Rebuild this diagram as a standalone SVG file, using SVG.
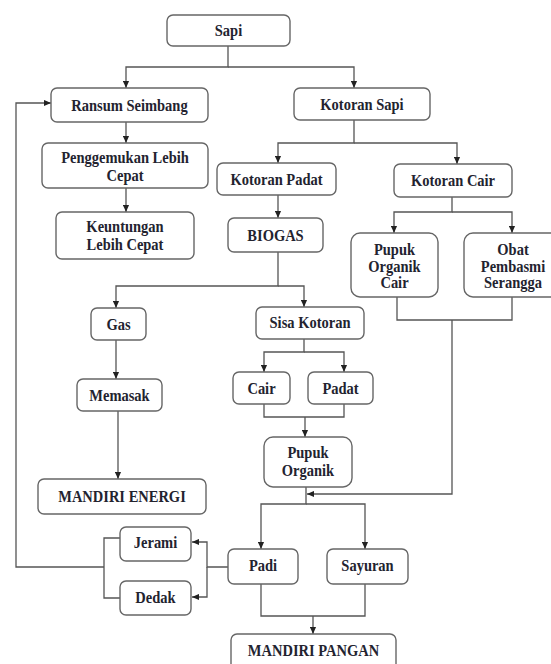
<svg xmlns="http://www.w3.org/2000/svg" width="551" height="664" viewBox="0 0 551 664">
<style>
.b{fill:#fff;stroke:#666;stroke-width:1.4}
.t{font-family:"Liberation Serif","Times New Roman",serif;font-weight:bold;font-size:14.5px;fill:#23232f;text-anchor:middle}
.c{fill:none;stroke:#555;stroke-width:1.3}
</style>
<defs>
<marker id="ah" viewBox="0 0 8 8" refX="8" refY="4" markerWidth="7" markerHeight="7" orient="auto" markerUnits="userSpaceOnUse"><path d="M0,0.5 L8,4 L0,7.5 z" fill="#222"/></marker>
</defs>
<rect width="551" height="664" fill="#fff"/>
<g id="connectors">
<path class="c" d="M228,46 V67 H126 V88" marker-end="url(#ah)"/>
<path class="c" d="M228,67 H354 V88" marker-end="url(#ah)"/>
<path class="c" d="M126,122 V143" marker-end="url(#ah)"/>
<path class="c" d="M126,188 V212" marker-end="url(#ah)"/>
<path class="c" d="M354,120 V143 H278 V163" marker-end="url(#ah)"/>
<path class="c" d="M354,143 H457 V164" marker-end="url(#ah)"/>
<path class="c" d="M278,195 V218" marker-end="url(#ah)"/>
<path class="c" d="M278,252 V286 H116 V308" marker-end="url(#ah)"/>
<path class="c" d="M278,286 H304 V307" marker-end="url(#ah)"/>
<path class="c" d="M116,340 V379" marker-end="url(#ah)"/>
<path class="c" d="M118,411 V479" marker-end="url(#ah)"/>
<path class="c" d="M304,339 V352 H264 V372" marker-end="url(#ah)"/>
<path class="c" d="M304,352 H344 V372" marker-end="url(#ah)"/>
<path class="c" d="M264,404 V417 H344 V404"/>
<path class="c" d="M305,417 V437" marker-end="url(#ah)"/>
<path class="c" d="M452,197 V212 H394 V233" marker-end="url(#ah)"/>
<path class="c" d="M452,212 H512 V233" marker-end="url(#ah)"/>
<path class="c" d="M397,297 V320 H512 V297"/>
<path class="c" d="M452,320 V494 H307" marker-end="url(#ah)"/>
<path class="c" d="M306,487 V504 H261 V549" marker-end="url(#ah)"/>
<path class="c" d="M306,504 H365 V549" marker-end="url(#ah)"/>
<path class="c" d="M228,567 H207 V542 H192" marker-end="url(#ah)"/>
<path class="c" d="M207,567 V597 H192" marker-end="url(#ah)"/>
<path class="c" d="M120,538 H104 V598 H120"/>
<path class="c" d="M104,567 H16 V103 H51" marker-end="url(#ah)"/>
<path class="c" d="M261,584 V616 H365 V584"/>
<path class="c" d="M313,616 V634" marker-end="url(#ah)"/>
</g>
<g id="sapi"><rect class="b" x="167" y="15" width="123" height="31" rx="6"/><text class="t" transform="translate(228.5 36) scale(1 1.15)">Sapi</text></g>
<g id="ransum"><rect class="b" x="51" y="88" width="157" height="34" rx="6"/><text class="t" transform="translate(129.5 110.5) scale(1 1.15)">Ransum Seimbang</text></g>
<g id="kotoran-sapi"><rect class="b" x="294" y="88" width="136" height="32" rx="6"/><text class="t" transform="translate(362 109.5) scale(1 1.15)">Kotoran Sapi</text></g>
<g id="penggemukan"><rect class="b" x="42" y="143" width="166" height="45" rx="6"/><text class="t" transform="translate(125 163) scale(1 1.15)">Penggemukan Lebih</text><text class="t" transform="translate(125 181) scale(1 1.15)">Cepat</text></g>
<g id="keuntungan"><rect class="b" x="56" y="212" width="138" height="47" rx="6"/><text class="t" transform="translate(125 232) scale(1 1.15)">Keuntungan</text><text class="t" transform="translate(125 249.5) scale(1 1.15)">Lebih Cepat</text></g>
<g id="kotoran-padat"><rect class="b" x="217" y="163" width="119" height="32" rx="6"/><text class="t" transform="translate(276.5 184.5) scale(1 1.15)">Kotoran Padat</text></g>
<g id="kotoran-cair"><rect class="b" x="394" y="164" width="118" height="33" rx="6"/><text class="t" transform="translate(453 186) scale(1 1.15)">Kotoran Cair</text></g>
<g id="biogas"><rect class="b" x="228" y="218" width="95" height="34" rx="6"/><text class="t" transform="translate(275.5 240.5) scale(1 1.15)">BIOGAS</text></g>
<g id="pupuk-organik-cair"><rect class="b" x="351" y="233" width="87" height="64" rx="9"/><text class="t" transform="translate(394.5 255) scale(1 1.15)">Pupuk</text><text class="t" transform="translate(394.5 271.5) scale(1 1.15)">Organik</text><text class="t" transform="translate(394.5 288) scale(1 1.15)">Cair</text></g>
<g id="obat"><rect class="b" x="464" y="233" width="98" height="64" rx="9"/><text class="t" transform="translate(513 255) scale(1 1.15)">Obat</text><text class="t" transform="translate(513 271.5) scale(1 1.15)">Pembasmi</text><text class="t" transform="translate(513 288) scale(1 1.15)">Serangga</text></g>
<g id="gas"><rect class="b" x="91" y="308" width="55" height="32" rx="6"/><text class="t" transform="translate(118.5 329.5) scale(1 1.15)">Gas</text></g>
<g id="sisa-kotoran"><rect class="b" x="256" y="307" width="108" height="32" rx="6"/><text class="t" transform="translate(310 328) scale(1 1.15)">Sisa Kotoran</text></g>
<g id="memasak"><rect class="b" x="77" y="379" width="85" height="32" rx="6"/><text class="t" transform="translate(119.5 400.5) scale(1 1.15)">Memasak</text></g>
<g id="cair"><rect class="b" x="233" y="372" width="57" height="32" rx="6"/><text class="t" transform="translate(261.5 393.5) scale(1 1.15)">Cair</text></g>
<g id="padat"><rect class="b" x="308" y="372" width="65" height="32" rx="6"/><text class="t" transform="translate(340.5 393.5) scale(1 1.15)">Padat</text></g>
<g id="pupuk-organik"><rect class="b" x="264" y="437" width="88" height="50" rx="9"/><text class="t" transform="translate(308 458) scale(1 1.15)">Pupuk</text><text class="t" transform="translate(308 476) scale(1 1.15)">Organik</text></g>
<g id="mandiri-energi"><rect class="b" x="38" y="479" width="168" height="35" rx="6"/><text class="t" transform="translate(122 501.5) scale(1 1.15)">MANDIRI ENERGI</text></g>
<g id="jerami"><rect class="b" x="120" y="527" width="71" height="34" rx="6"/><text class="t" transform="translate(155.5 548) scale(1 1.15)">Jerami</text></g>
<g id="dedak"><rect class="b" x="120" y="581" width="71" height="34" rx="6"/><text class="t" transform="translate(155.5 603) scale(1 1.15)">Dedak</text></g>
<g id="padi"><rect class="b" x="228" y="549" width="70" height="35" rx="6"/><text class="t" transform="translate(263 571) scale(1 1.15)">Padi</text></g>
<g id="sayuran"><rect class="b" x="327" y="549" width="81" height="35" rx="6"/><text class="t" transform="translate(367.5 571) scale(1 1.15)">Sayuran</text></g>
<g id="mandiri-pangan"><rect class="b" x="231" y="634" width="165" height="38" rx="6"/><text class="t" transform="translate(313.5 656) scale(1 1.15)">MANDIRI PANGAN</text></g>
</svg>
